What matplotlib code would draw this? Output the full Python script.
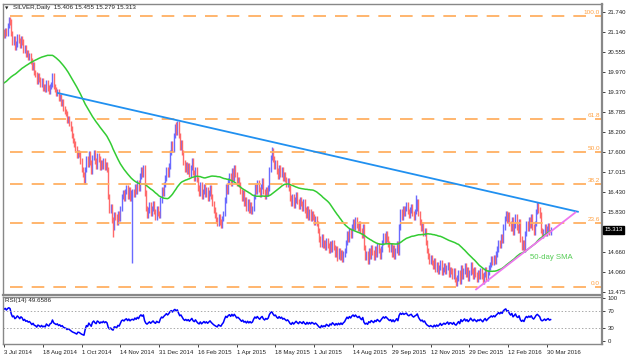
import numpy as np
import pandas as pd
import matplotlib
matplotlib.use('Agg')
import matplotlib.pyplot as plt

# closes before the visible window (only used to warm up SMA / RSI)
pre_closes = [20.00, 19.85, 19.70, 19.65, 19.75, 19.60, 19.55, 19.70, 19.65, 19.50,
              19.45, 19.30, 19.40, 19.25, 19.35, 19.50, 19.40, 19.30, 19.45, 19.25,
              19.15, 19.20, 19.10, 19.05, 19.15, 19.00, 18.95, 18.85, 18.90, 18.80,
              18.90, 18.95, 18.85, 19.00, 19.10, 19.05, 19.40, 19.55, 19.70, 19.80,
              20.60, 20.75, 20.80, 20.95, 20.85, 21.00, 21.10, 21.05, 21.15]

# daily closes, 3 Jul 2014 .. early Apr 2016
closes = [21.05, 21.20, 21.10, 21.35, 21.50, 21.45,
          21.10, 20.85, 20.95, 20.70,
          20.80, 21.00, 20.90, 20.75, 20.95, 20.85, 20.60, 20.70,
          20.50, 20.55, 20.40, 20.45,
          20.30, 20.10, 20.20, 19.95,
          19.90, 19.70, 19.85, 19.75,
          19.60, 19.70, 19.50, 19.55, 19.45, 19.65, 19.50, 19.40, 19.55,
          19.60, 19.85, 19.55, 19.45,
          19.35, 19.40, 19.20, 19.25,
          19.05, 19.10, 18.90, 18.80,
          18.75, 18.55, 18.60, 18.45,
          18.30, 18.10, 17.95,
          17.85, 17.70, 17.50, 17.60,
          17.55, 17.35, 17.10, 16.95, 16.75,
          17.10, 17.40, 17.25, 17.55, 17.30, 17.05, 17.45, 17.60, 17.35, 17.20, 17.50, 17.40, 17.15,
          17.30, 17.20, 17.35, 17.15, 17.25, 17.10,
          16.30, 15.90, 16.00,
          15.60, 15.40, 15.75,
          15.70, 15.55, 15.80, 15.65,
          15.95, 16.30, 16.40, 16.25,
          16.45, 16.55, 16.30, 16.50, 16.25, 16.40,
          16.45,
          16.35, 16.60, 16.45, 16.70, 16.55,
          16.90, 17.10, 16.95, 17.15,
          16.40, 15.95, 15.75,
          15.90, 16.05, 15.80, 15.95, 16.10, 15.85, 15.70, 15.95, 15.80, 15.75,
          16.20, 16.50, 16.40, 16.65,
          16.85, 17.10, 16.95, 17.20,
          17.60, 17.85, 17.70, 18.10,
          18.35, 18.20, 18.45,
          18.10, 17.75, 17.90, 17.60,
          17.30, 17.10, 17.25, 17.05,
          17.20, 16.95, 17.15, 17.35, 17.00, 16.85, 17.10,
          16.80, 16.55, 16.40, 16.65, 16.30, 16.45,
          16.60, 16.35, 16.50, 16.25, 16.40, 16.55, 16.30,
          16.10, 15.90, 15.75, 15.60, 15.50, 15.70, 15.55, 15.45, 15.65, 15.80,
          16.20, 16.60, 16.45, 16.75,
          16.90, 16.70, 17.05, 16.85, 17.15, 16.95, 16.70, 16.80, 16.65,
          16.45, 16.25, 16.40, 16.10, 16.20, 15.95, 16.15, 15.90, 16.05, 15.85, 15.95,
          16.30, 16.60, 16.45, 16.70, 16.50, 16.35, 16.60, 16.75, 16.45,
          16.30, 16.50, 16.40, 16.55,
          17.10, 17.45, 17.65, 17.40,
          17.20, 17.30, 17.05, 16.90, 17.15, 16.95, 17.10, 16.85, 16.95,
          16.80, 16.65, 16.75, 16.55,
          16.25, 16.10, 16.30, 16.05, 16.20, 16.35, 16.15, 16.00, 16.20, 16.10, 15.95, 16.15,
          15.90, 15.75, 15.95, 15.70, 15.85, 15.65, 15.80,
          15.70, 15.55, 15.65, 15.50,
          15.30, 15.05, 14.90, 15.10, 14.85, 14.95,
          14.80, 15.00, 14.85, 14.70, 14.90, 14.75, 14.95, 14.80,
          14.60, 14.75, 14.55, 14.70, 14.50, 14.65, 14.45, 14.60, 14.70,
          14.95, 15.20, 15.05, 15.30, 15.15, 15.40,
          15.55, 15.40, 15.60, 15.45, 15.35, 15.50,
          15.30, 15.15, 15.40,
          14.80, 14.50, 14.60, 14.40,
          14.70, 14.55, 14.80, 14.65, 14.50, 14.75, 14.60, 14.85, 14.70, 14.55, 14.75,
          14.95, 15.15, 15.00, 15.20, 15.05, 14.90,
          14.75, 14.85, 14.60, 14.80, 14.55, 14.70, 14.90, 14.65,
          15.40, 15.85, 15.70, 15.95,
          15.80, 15.95, 16.05, 15.85, 15.75, 15.90, 16.00, 15.80, 15.70, 15.85, 15.95, 16.15,
          15.80, 15.55, 15.35, 15.45, 15.20, 15.30,
          14.95, 14.70, 14.55, 14.40, 14.50, 14.35,
          14.25, 14.40, 14.15, 14.30, 14.10, 14.20, 14.35, 14.05, 14.15, 14.25, 14.10, 14.20, 14.30, 14.00, 14.15, 14.10,
          13.95, 14.10, 13.85, 13.75, 13.90, 14.05, 13.80, 14.20,
          13.95, 14.10, 14.25, 14.00, 14.15, 13.90, 14.05, 14.30, 14.10, 13.95, 14.15, 14.00, 13.85, 14.05, 13.95,
          14.10, 13.95, 13.80, 14.00, 14.15, 13.90, 14.05, 14.20,
          14.30, 14.45, 14.35, 14.50, 14.40, 14.60,
          14.75, 14.95, 14.85, 15.10, 15.00,
          15.40, 15.65, 15.80, 15.60, 15.75,
          15.50, 15.35, 15.60, 15.25, 15.45, 15.70, 15.40, 15.30, 15.55,
          15.05, 14.80, 14.95, 14.75,
          15.20, 15.50, 15.35, 15.60, 15.45, 15.70,
          15.40, 15.25, 15.50,
          15.85, 16.05, 15.90, 15.75,
          15.30, 15.15, 15.25,
          15.40, 15.20, 15.35, 15.45, 15.25, 15.313]

# long wicks worth showing (bar index -> extreme)
wick_lows = {90: 15.10, 106: 14.35, 275: 14.40, 373: 13.65}
wick_highs = {5: 21.60, 142: 18.50, 221: 17.75, 340: 16.35, 440: 16.15}

date_labels = ['3 Jul 2014', '18 Aug 2014', '1 Oct 2014', '14 Nov 2014', '31 Dec 2014',
               '16 Feb 2015', '1 Apr 2015', '18 May 2015', '1 Jul 2015', '14 Aug 2015',
               '29 Sep 2015', '12 Nov 2015', '29 Dec 2015', '12 Feb 2016', '30 Mar 2016']
label_step = 32

price_ticks = [21.740, 21.140, 20.555, 19.970, 19.370, 18.785, 18.200, 17.600,
               17.015, 16.430, 15.830, 15.245, 14.660, 14.060, 13.475]

fib_high, fib_low = 21.63, 13.62
fib_pcts = [100.0, 61.8, 50.0, 38.2, 23.6, 0.0]
fib_start = 5

resist_x = [44.5, 473.5]
resist_y = [19.35, 15.85]
support_x = [389.5, 471.5]
support_y = [13.56, 15.83]

sma_label_pos = (434, 14.49)

# indicators
full = pd.Series(pre_closes + closes)
sma = full.rolling(50).mean().values[len(pre_closes):]
d = full.diff()
up = d.clip(lower=0).ewm(alpha=1/14, adjust=False).mean()
dn = (-d.clip(upper=0)).ewm(alpha=1/14, adjust=False).mean()
rsi = (100 - 100/(1 + up/dn)).values[len(pre_closes):]

n = len(closes)
x = np.arange(n)
opens = np.array([pre_closes[-1]] + closes[:-1])
cl = np.array(closes)

fig = plt.figure(figsize=(6.28, 3.59), dpi=100)
ax = fig.add_axes([0.0048, 0.1783, 0.9538, 0.8106])
ax2 = fig.add_axes([0.0048, 0.0418, 0.9538, 0.1309])
xlim = (-0.8, 493.4)
FONT = 'Liberation Sans'

# candles (body from previous close, short wick padding)
lo = np.minimum(opens, cl) - 0.08
hi = np.maximum(opens, cl) + 0.08
for i in wick_lows:
    lo[i] = wick_lows[i]
for i in wick_highs:
    hi[i] = wick_highs[i]
bull = cl >= opens
ax.vlines(x[bull], lo[bull], hi[bull], color='#6a6aff', lw=1.0)
ax.vlines(x[~bull], lo[~bull], hi[~bull], color='#ff6a6a', lw=1.0)

ax.plot(x, sma, color='#33cc33', lw=1.1)

for p in fib_pcts:
    lvl = fib_low + (fib_high - fib_low) * p / 100
    ax.plot([fib_start, xlim[1]], [lvl, lvl], color='#ffb062', lw=1.3, dashes=(7, 5))
    ax.text(xlim[1] - 1.5, lvl + 0.03, '%.1f' % p, color='#ffa040', fontsize=4.6,
            ha='right', va='bottom', family=FONT)

ax.plot(resist_x, resist_y, color='#2090f0', lw=1.3)
ax.plot(support_x, support_y, color='#ee77ee', lw=1.3)
ax.text(sma_label_pos[0], sma_label_pos[1], '50-day SMA', color='#55cc55', fontsize=5.6,
        va='center', family=FONT)

ax.set_xlim(*xlim)
ax.set_ylim(13.395, 21.976)
ax.yaxis.tick_right()
ax.set_yticks(price_ticks)
# 15.245 sits behind the last-price box
ax.set_yticklabels(['' if t == 15.245 else '%.3f' % t for t in price_ticks])
ax.set_xticks([])
ax.tick_params(axis='y', labelsize=4.3, length=2, pad=2, colors='#222222', width=0.6)
for lab in ax.get_yticklabels():
    lab.set_family(FONT)

ax.text(0.004, 0.993, '\u25bc', transform=ax.transAxes, fontsize=3.2, va='top', ha='left', color='#222222')
ax.text(0.016, 0.995, 'SILVER,Daily  15.406 15.455 15.279 15.313', transform=ax.transAxes,
        fontsize=4.5, va='top', ha='left', color='#222222', family=FONT)

last = closes[-1]
ax.text(1.004, last, '%.3f' % last, transform=ax.get_yaxis_transform(), fontsize=4.3,
        color='white', va='center', ha='left', family=FONT,
        bbox=dict(boxstyle='square,pad=0.2', fc='black', ec='black'))

# RSI panel
ax2.plot(x, rsi, color='#0000ff', lw=1.1)
for lvl in (70, 30):
    ax2.axhline(lvl, color='#aaaaaa', lw=0.7, ls=(0, (1.5, 2)))
ax2.set_xlim(*xlim)
ax2.set_ylim(-8, 102)
ax2.yaxis.tick_right()
ax2.set_yticks([100, 70, 30, 0])
ax2.set_yticklabels(['100', '70', '30', '0'])
ticks_x = [k * label_step for k in range(len(date_labels))]
ax2.set_xticks(ticks_x)
ax2.set_xticklabels(date_labels, ha='left')
ax2.tick_params(labelsize=4.3, length=2, pad=2, colors='#222222', width=0.6)
for lab in ax2.get_xticklabels() + ax2.get_yticklabels():
    lab.set_family(FONT)
ax2.text(0.004, 0.97, 'RSI(14) 49.6586', transform=ax2.transAxes, fontsize=4.5,
         va='top', ha='left', color='#222222', family=FONT)

for a in (ax, ax2):
    for s in a.spines.values():
        s.set_color('#888888')
        s.set_linewidth(1.0)
ax.spines['right'].set_linewidth(1.6)
ax.spines['bottom'].set_linewidth(1.6)
ax2.spines['right'].set_linewidth(1.6)

fig.savefig('out.png', dpi=100)
